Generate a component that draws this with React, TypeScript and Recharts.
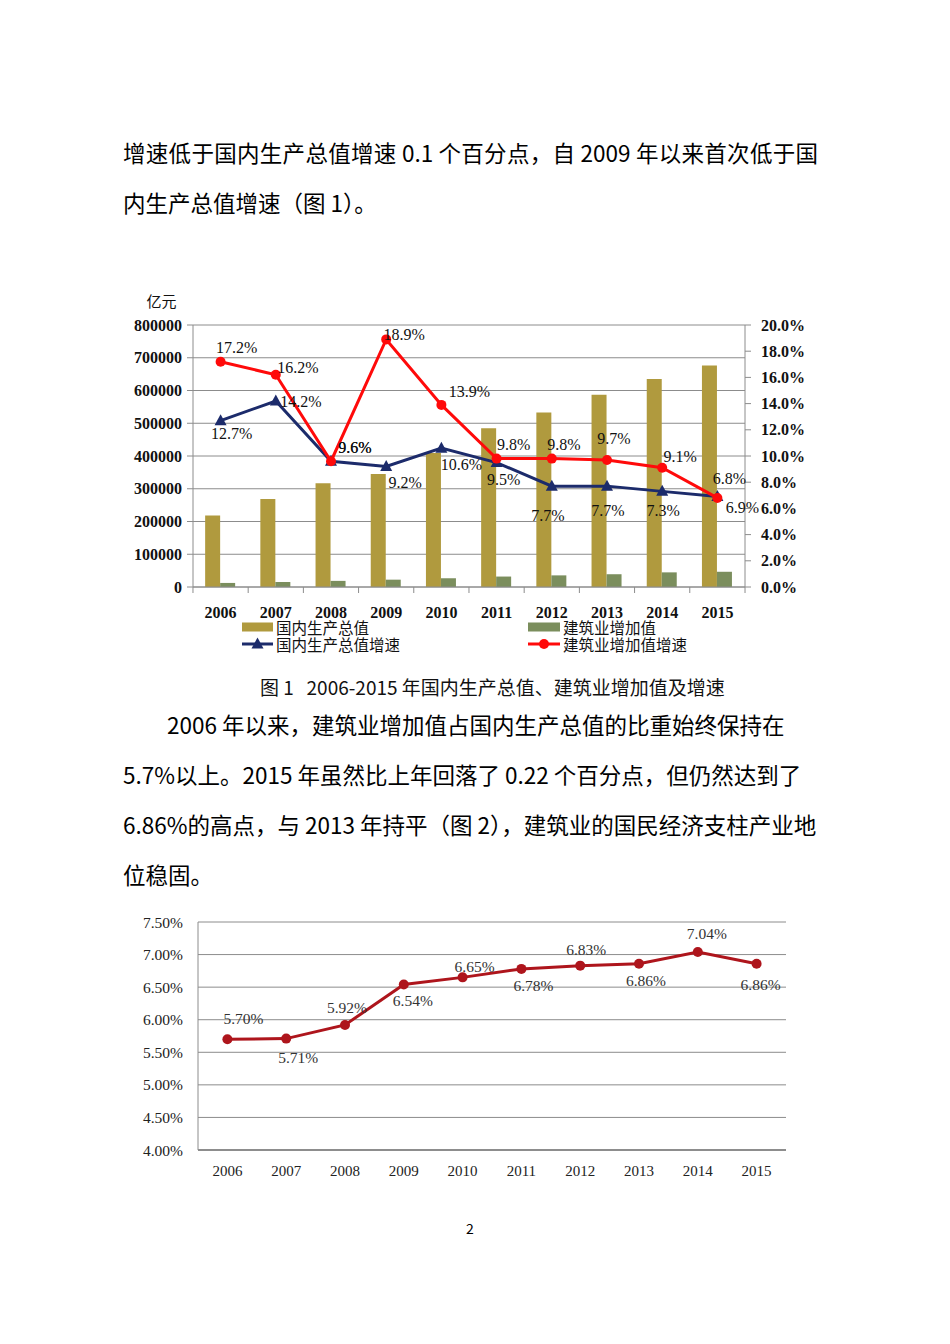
import React from 'react';
import {
  ComposedChart,
  LineChart,
  Bar,
  Line,
  XAxis,
  YAxis,
  CartesianGrid,
  LabelList,
  Legend,
} from 'recharts';

// ---------- data ----------
const years = ['2006', '2007', '2008', '2009', '2010', '2011', '2012', '2013', '2014', '2015'];
const gdpValues = [218000, 268500, 317000, 345000, 409000, 484500, 533000, 587000, 635000, 676000];
const constructionValues = [12400, 15300, 18700, 22400, 26700, 31900, 35500, 39000, 44700, 46500];
const gdpGrowth = [12.7, 14.2, 9.6, 9.2, 10.6, 9.5, 7.7, 7.7, 7.3, 6.9];
const constructionGrowth = [17.2, 16.2, 9.6, 18.9, 13.9, 9.8, 9.8, 9.7, 9.1, 6.8];
const leftTicks = [0, 100000, 200000, 300000, 400000, 500000, 600000, 700000, 800000];
const rightTicks = [0, 2, 4, 6, 8, 10, 12, 14, 16, 18, 20];

const shareValues = [5.7, 5.71, 5.92, 6.54, 6.65, 6.78, 6.83, 6.86, 7.04, 6.86];
const shareTicks = [4, 4.5, 5, 5.5, 6, 6.5, 7, 7.5];

const seriesNames = ['国内生产总值', '建筑业增加值', '国内生产总值增速', '建筑业增加值增速'];

// ---------- label nudges (layout only) ----------
const redLabelNudge = [
  [16, -14], [22, -7], [24, -14], [18, -5], [28, -13],
  [17, -14], [12, -14], [7, -21], [18, -11], [12, -19],
];
const blueLabelNudge = [
  [11, 13], [25, 1], [24, -14], [19, 16], [20, 16],
  [7, 17], [-4, 29], [1, 24], [1, 19], [25, 11],
];
const shareLabelNudge = [
  [16, -21], [12, 19], [2, -17], [9, 16], [12, -11],
  [12, 17], [6, -16], [7, 17], [9, -18], [4, 21],
];

// ---------- styles ----------
const SERIF = "'Liberation Serif', 'Times New Roman', serif";
const CJK = "'Noto Sans CJK SC', 'Noto Sans', sans-serif";
const GOLD = '#B09A3E';
const GREEN = '#7B8E5D';
const NAVY = '#1C2B6B';
const RED = '#FF0A0A';
const DARKRED = '#AE151C';
const GRID = '#8C8C8C';

const chart1Data = years.map((y, i) => ({
  year: y,
  gdp: gdpValues[i],
  construction: constructionValues[i],
  gdpGrowth: gdpGrowth[i],
  constructionGrowth: constructionGrowth[i],
}));

const chart2Data = years.map((y, i) => ({ year: y, share: shareValues[i] }));

const BAND1 = 55.25;
const TICK_MARGIN1 = 14;

const YearTick1 = (props: any) => {
  const { x, y, payload, index } = props;
  const axisY = y - 6 - TICK_MARGIN1;
  return (
    <g>
      <line x1={x - BAND1 / 2} x2={x - BAND1 / 2} y1={axisY} y2={axisY + 6} stroke={GRID} />
      {index === years.length - 1 ? (
        <line x1={x + BAND1 / 2} x2={x + BAND1 / 2} y1={axisY} y2={axisY + 6} stroke={GRID} />
      ) : null}
      <text
        x={x}
        y={y}
        dy="0.71em"
        textAnchor="middle"
        fontFamily={SERIF}
        fontWeight="bold"
        fontSize={16}
        fill="#111"
      >
        {payload.value}
      </text>
    </g>
  );
};

const makeLabel =
  (nudge: number[][], fmt: (v: number) => string, size: number, color: string) =>
  (props: any) => {
    const { x, y, value, index } = props;
    if (x == null || y == null) return null;
    const [dx, dy] = nudge[index] || [0, 0];
    return (
      <text
        x={x + dx}
        y={y + dy}
        textAnchor="middle"
        dominantBaseline="central"
        fontFamily={SERIF}
        fontSize={size}
        fill={color}
      >
        {fmt(value)}
      </text>
    );
  };

const TriangleDot = (props: any) => {
  const { cx, cy, index } = props;
  if (cx == null || cy == null) return <g key={`tri-${index}`} />;
  return (
    <polygon
      key={`tri-${index}`}
      points={`${cx},${cy - 6.5} ${cx - 6},${cy + 4.5} ${cx + 6},${cy + 4.5}`}
      fill={NAVY}
    />
  );
};

const Legend1 = () => (
  <div style={{ position: 'relative', width: 700, height: 40, fontFamily: CJK, fontSize: 15.5, color: '#111' }}>
    <svg width={700} height={40} style={{ position: 'absolute', left: 0, top: 0 }}>
      <rect x={122} y={5.5} width={31} height={9} fill={GOLD} />
      <rect x={408} y={5.5} width={32} height={9} fill={GREEN} />
      <line x1={122} x2={153} y1={27} y2={27} stroke={NAVY} strokeWidth={3} />
      <polygon points={`137.5,20.5 131.5,31.5 143.5,31.5`} fill={NAVY} />
      <line x1={408} x2={440} y1={27} y2={27} stroke={RED} strokeWidth={3} />
      <circle cx={424} cy={27} r={5} fill={RED} />
    </svg>
    <div style={{ position: 'absolute', left: 156, top: 0, lineHeight: '20px', whiteSpace: 'nowrap' }}>{seriesNames[0]}</div>
    <div style={{ position: 'absolute', left: 443, top: 0, lineHeight: '20px', whiteSpace: 'nowrap' }}>{seriesNames[1]}</div>
    <div style={{ position: 'absolute', left: 156, top: 17, lineHeight: '20px', whiteSpace: 'nowrap' }}>{seriesNames[2]}</div>
    <div style={{ position: 'absolute', left: 443, top: 17, lineHeight: '20px', whiteSpace: 'nowrap' }}>{seriesNames[3]}</div>
  </div>
);

const textLine = (text: string, left: number, centerY: number, size: number, extra: any = {}) => (
  <div
    style={{
      position: 'absolute',
      left,
      top: centerY - size * 0.75,
      fontSize: size,
      lineHeight: `${size * 1.5}px`,
      fontFamily: CJK,
      whiteSpace: 'pre',
      color: '#000',
      ...extra,
    }}
  >
    {text}
  </div>
);

const justified = { width: 695, textAlign: 'justify', textAlignLast: 'justify' };

export default function App() {
  return (
    <div style={{ position: 'absolute', left: 0, top: 0, width: 950, height: 1344, background: '#fff' }}>
      {textLine('增速低于国内生产总值增速 0.1 个百分点，自 2009 年以来首次低于国', 123, 153, 22.5, {
        ...justified,
        whiteSpace: 'nowrap',
      })}
      {textLine('内生产总值增速（图 1）。', 123, 203, 22.5)}

      {/* Chart 1 */}
      <div style={{ position: 'absolute', left: 120, top: 280 }}>
        <ComposedChart
          width={700}
          height={390}
          data={chart1Data}
          margin={{ top: 45, right: 0, bottom: 43, left: 0 }}
          barCategoryGap="22%"
          barGap={0}
        >
          <CartesianGrid yAxisId="left" vertical={false} stroke={GRID} strokeWidth={1} />
          <XAxis
            dataKey="year"
            interval={0}
            tickLine={false}
            axisLine={{ stroke: GRID }}
            tickMargin={TICK_MARGIN1}
            height={40}
            tick={<YearTick1 />}
          />
          <YAxis
            yAxisId="left"
            width={73}
            domain={[0, 800000]}
            ticks={leftTicks}
            interval={0}
            tickFormatter={(v: number) => String(v)}
            axisLine={{ stroke: GRID }}
            tickLine={{ stroke: GRID }}
            tickSize={6}
            tickMargin={5}
            tick={{ fontFamily: SERIF, fontWeight: 'bold', fontSize: 16, fill: '#111' }}
            label={{
              value: '亿元',
              position: 'top',
              offset: 18,
              dx: 5,
              style: { fontFamily: CJK, fontSize: 15, fill: '#111' },
            }}
          />
          <YAxis
            yAxisId="right"
            orientation="right"
            width={75}
            domain={[0, 20]}
            ticks={rightTicks}
            interval={0}
            tickFormatter={(v: number) => `${v.toFixed(1)}%`}
            axisLine={{ stroke: GRID }}
            tickLine={{ stroke: GRID }}
            tickSize={6}
            tickMargin={10}
            tick={{ fontFamily: SERIF, fontWeight: 'bold', fontSize: 16, fill: '#111', textAnchor: 'start' }}
          />
          <Bar yAxisId="left" dataKey="gdp" name={seriesNames[0]} fill={GOLD} isAnimationActive={false} />
          <Bar yAxisId="left" dataKey="construction" name={seriesNames[1]} fill={GREEN} isAnimationActive={false} />
          <Line
            yAxisId="right"
            dataKey="gdpGrowth"
            name={seriesNames[2]}
            stroke={NAVY}
            strokeWidth={3}
            dot={TriangleDot}
            activeDot={false}
            isAnimationActive={false}
          >
            <LabelList dataKey="gdpGrowth" content={makeLabel(blueLabelNudge, (v) => `${v.toFixed(1)}%`, 16, '#111')} />
          </Line>
          <Line
            yAxisId="right"
            dataKey="constructionGrowth"
            name={seriesNames[3]}
            stroke={RED}
            strokeWidth={3}
            dot={{ r: 5, fill: RED, stroke: RED, strokeWidth: 0 }}
            activeDot={false}
            isAnimationActive={false}
          >
            <LabelList
              dataKey="constructionGrowth"
              content={makeLabel(redLabelNudge, (v) => `${v.toFixed(1)}%`, 16, '#111')}
            />
          </Line>
          <Legend
            layout="horizontal"
            verticalAlign="middle"
            align="center"
            wrapperStyle={{ left: 0, top: 337, width: 700, height: 40 }}
            content={() => <Legend1 />}
          />
        </ComposedChart>
      </div>

      {textLine('图 1   2006-2015 年国内生产总值、建筑业增加值及增速', 260, 687, 19, { color: '#111' })}

      {textLine('2006 年以来，建筑业增加值占国内生产总值的比重始终保持在', 167, 725, 22.5)}
      {textLine('5.7%以上。2015 年虽然比上年回落了 0.22 个百分点，但仍然达到了', 123, 775, 22.5)}
      {textLine('6.86%的高点，与 2013 年持平（图 2），建筑业的国民经济支柱产业地', 123, 825, 22.5)}
      {textLine('位稳固。', 123, 875, 22.5)}

      {/* Chart 2 */}
      <div style={{ position: 'absolute', left: 120, top: 900 }}>
        <LineChart
          width={700}
          height={300}
          data={chart2Data}
          margin={{ top: 22, right: 34, bottom: 20, left: 0 }}
        >
          <CartesianGrid vertical={false} stroke={GRID} strokeWidth={1} />
          <XAxis
            dataKey="year"
            interval={0}
            tickLine={false}
            axisLine={{ stroke: '#7A7A7A', strokeWidth: 1.5 }}
            tickMargin={9}
            height={30}
            padding={{ left: 29.4, right: 29.4 }}
            tick={{ fontFamily: SERIF, fontSize: 15, fill: '#222' }}
          />
          <YAxis
            width={78}
            domain={[4, 7.5]}
            ticks={shareTicks}
            interval={0}
            tickFormatter={(v: number) => `${v.toFixed(2)}%`}
            axisLine={{ stroke: GRID }}
            tickLine={false}
            tickMargin={9}
            tick={{ fontFamily: SERIF, fontSize: 15.5, fill: '#222' }}
          />
          <Line
            dataKey="share"
            stroke={DARKRED}
            strokeWidth={3}
            dot={{ r: 5, fill: DARKRED, stroke: DARKRED, strokeWidth: 0 }}
            activeDot={false}
            isAnimationActive={false}
          >
            <LabelList dataKey="share" content={makeLabel(shareLabelNudge, (v) => `${v.toFixed(2)}%`, 15.5, '#333')} />
          </Line>
        </LineChart>
      </div>

      {textLine('2', 466, 1228, 14)}
    </div>
  );
}
